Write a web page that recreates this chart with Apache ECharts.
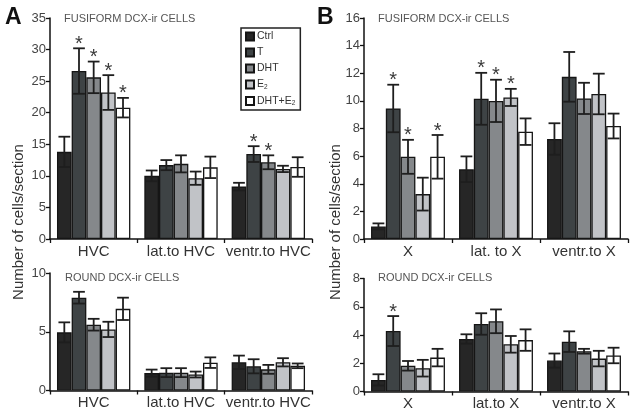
<!DOCTYPE html>
<html><head><meta charset="utf-8">
<script src="https://cdn.jsdelivr.net/npm/echarts@6/dist/echarts.min.js"></script>
<style>html,body{margin:0;padding:0;background:#fff}#c{width:635px;height:413px}</style>
</head><body><div id="c"></div>
<script>
const groups = ['Ctrl', 'T', 'DHT', 'E2', 'DHT+E2'];
const groupColors = ['#262626', '#3e4345', '#85888b', '#c1c3c7', '#ffffff'];
const catsHVC = ['HVC', 'lat.to HVC', 'ventr.to HVC'];
const catsXTop = ['X', 'lat. to X', 'ventr.to X'];
const catsXBot = ['X', 'lat.to X', 'ventr.to X'];
// values: [group][category]
const fusiA_mean = [[13.8, 10.0, 8.3], [26.6, 11.7, 13.45], [25.6, 11.9, 12.15], [23.2, 9.63, 11.1], [20.8, 11.35, 11.4]];
const fusiA_sem = [[2.4, 0.85, 0.6], [3.6, 0.8, 1.25], [2.5, 1.35, 1.1], [2.75, 1.05, 0.5], [1.55, 1.7, 1.55]];
const fusiA_stars = [[0, 1], [0, 2], [0, 3], [0, 4], [2, 1], [2, 2]];
const roundA_mean = [[4.95, 1.48, 2.4], [7.9, 1.52, 2.06], [5.6, 1.52, 1.8], [5.2, 1.36, 2.4], [6.95, 2.37, 2.1]];
const roundA_sem = [[0.85, 0.3, 0.57], [0.5, 0.38, 0.6], [0.5, 0.38, 0.38], [0.65, 0.25, 0.35], [0.95, 0.45, 0.2]];
const roundA_stars = [];
const fusiB_mean = [[0.91, 5.05, 7.24], [9.45, 10.15, 11.74], [5.95, 10.0, 10.18], [3.25, 10.25, 10.5], [5.95, 7.77, 8.18]];
const fusiB_sem = [[0.22, 0.93, 1.14], [1.72, 1.88, 1.8], [1.23, 1.53, 1.13], [1.19, 0.62, 1.47], [1.58, 0.96, 0.9]];
const fusiB_stars = [[0, 1], [0, 2], [0, 4], [1, 1], [1, 2], [1, 3]];
const roundB_mean = [[0.82, 3.72, 2.19], [4.28, 4.78, 3.53], [1.82, 4.97, 2.85], [1.65, 3.34, 2.33], [2.4, 3.64, 2.55]];
const roundB_sem = [[0.4, 0.33, 0.5], [1.06, 0.76, 0.73], [0.34, 0.84, 0.17], [0.59, 0.59, 0.55], [0.62, 0.76, 0.55]];
const roundB_stars = [[0, 1]];
const yMax = [35, 10, 16, 8];
const yStep = [5, 5, 2, 2];

const FONT = '"Liberation Sans", Arial, Helvetica, sans-serif';
const CAT_GAP = 0.16;
const panels = [
  { cats: catsHVC, mean: fusiA_mean, sem: fusiA_sem, stars: fusiA_stars, grid: { left: 50, top: 18, width: 262, height: 221 } },
  { cats: catsHVC, mean: roundA_mean, sem: roundA_sem, stars: roundA_stars, grid: { left: 50, top: 273, width: 262, height: 117.5 } },
  { cats: catsXTop, mean: fusiB_mean, sem: fusiB_sem, stars: fusiB_stars, grid: { left: 364, top: 18, width: 264, height: 221 } },
  { cats: catsXBot, mean: roundB_mean, sem: roundB_sem, stars: roundB_stars, grid: { left: 364, top: 278.5, width: 264, height: 113 } }
];

const grids = [], xAxes = [], yAxes = [], series = [];
panels.forEach((p, pi) => {
  grids.push(Object.assign({ containLabel: false }, p.grid));
  xAxes.push({
    type: 'category', gridIndex: pi, data: p.cats,
    axisLine: { lineStyle: { color: '#111', width: 1.5 } },
    axisTick: { show: true, length: 4, lineStyle: { color: '#111', width: 1.3 } },
    axisLabel: { color: '#333', fontSize: 15, fontFamily: FONT, margin: 5, interval: 0, hideOverlap: false }
  });
  yAxes.push({
    type: 'value', gridIndex: pi, min: 0, max: yMax[pi], interval: yStep[pi],
    splitLine: { show: false },
    axisLine: { show: true, lineStyle: { color: '#111', width: 1.5 } },
    axisTick: { show: true, length: 4, lineStyle: { color: '#111', width: 1.3 } },
    axisLabel: { color: '#444', fontSize: 13, fontFamily: FONT, margin: 4 }
  });
  groups.forEach((g, gi) => {
    series.push({
      type: 'bar', name: g, xAxisIndex: pi, yAxisIndex: pi,
      data: p.mean[gi], barGap: '0%', barCategoryGap: (CAT_GAP * 100) + '%',
      itemStyle: { color: groupColors[gi], borderColor: '#151515', borderWidth: 1.3 },
      silent: true, animation: false
    });
  });
  const errData = [];
  groups.forEach((g, gi) => {
    p.cats.forEach((c, ci) => {
      const star = p.stars.some(s => s[0] === ci && s[1] === gi) ? 1 : 0;
      errData.push([ci, gi, p.mean[gi][ci], p.sem[gi][ci], star]);
    });
  });
  series.push({
    type: 'custom', name: 'err' + pi, xAxisIndex: pi, yAxisIndex: pi, z: 5,
    data: errData, encode: { x: 0, y: 2 }, clip: false, animation: false, silent: true,
    renderItem: function (params, api) {
      const c = api.value(0), g = api.value(1), m = api.value(2), s = api.value(3), st = api.value(4);
      const band = api.size([1, 0])[0];
      const total = band * (1 - CAT_GAP);
      const bw = total / 5;
      const center = api.coord([c, m])[0];
      const x = center - total / 2 + bw * (g + 0.5);
      const yT = api.coord([c, m + s])[1];
      const yB = api.coord([c, Math.max(m - s, 0)])[1];
      const hw = bw * 0.4;
      const ls = { stroke: '#1e1e1e', lineWidth: 1.8 };
      const children = [
        { type: 'line', shape: { x1: x, y1: yT, x2: x, y2: yB }, style: ls },
        { type: 'line', shape: { x1: x - hw, y1: yT, x2: x + hw, y2: yT }, style: ls },
        { type: 'line', shape: { x1: x - hw, y1: yB, x2: x + hw, y2: yB }, style: ls }
      ];
      if (st) {
        children.push({ type: 'text', style: { text: '*', x: x, y: yT - 4, fill: '#3a3a3a', font: '20px ' + FONT, textAlign: 'center', textVerticalAlign: 'middle' } });
      }
      return { type: 'group', children: children };
    }
  });
});

const subRich = {
  n: { fontSize: 10.5, fontFamily: FONT, color: '#333' },
  s: { fontSize: 6.5, fontFamily: FONT, color: '#333', padding: [5, 0, 0, 0] }
};

const option = {
  animation: false,
  backgroundColor: '#fff',
  grid: grids, xAxis: xAxes, yAxis: yAxes, series: series,
  legend: {
    data: groups, orient: 'vertical', left: 241, top: 28,
    itemWidth: 8, itemHeight: 8, itemGap: 5, icon: 'rect',
    padding: [3, 5, 3, 4], borderColor: '#222', borderWidth: 1.5,
    selectedMode: false,
    textStyle: { fontSize: 10.5, fontFamily: FONT, color: '#333', padding: [0, 0, 0, -2], rich: subRich },
    formatter: function (name) {
      if (name === 'E2') return '{n|E}{s|2}';
      if (name === 'DHT+E2') return '{n|DHT+E}{s|2}';
      return '{n|' + name + '}';
    }
  },
  graphic: [
    { type: 'text', left: 5, top: 6, style: { text: 'A', font: 'bold 23px ' + FONT, fill: '#111' } },
    { type: 'text', left: 317, top: 6, style: { text: 'B', font: 'bold 23px ' + FONT, fill: '#111' } },
    { type: 'text', left: 64, top: 13, style: { text: 'FUSIFORM DCX-ir CELLS', font: '11px ' + FONT, fill: '#555' } },
    { type: 'text', left: 378, top: 13, style: { text: 'FUSIFORM DCX-ir CELLS', font: '11px ' + FONT, fill: '#555' } },
    { type: 'text', left: 65, top: 272, style: { text: 'ROUND DCX-ir CELLS', font: '11px ' + FONT, fill: '#555' } },
    { type: 'text', left: 378, top: 272, style: { text: 'ROUND DCX-ir CELLS', font: '11px ' + FONT, fill: '#555' } },
    { type: 'text', x: 19, y: 222, rotation: Math.PI / 2, style: { text: 'Number of cells/section', font: '15px ' + FONT, fill: '#333', textAlign: 'center', textVerticalAlign: 'middle' } },
    { type: 'text', x: 336, y: 222, rotation: Math.PI / 2, style: { text: 'Number of cells/section', font: '15px ' + FONT, fill: '#333', textAlign: 'center', textVerticalAlign: 'middle' } }
  ]
};
const chart = echarts.init(document.getElementById('c'), null, { renderer: 'canvas' });
chart.setOption(option);
</script>
</body></html>
